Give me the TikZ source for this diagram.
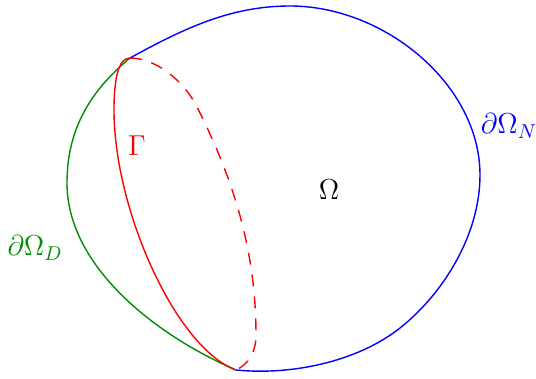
\documentclass[tikz,border=0pt]{standalone}
\begin{document}
\begin{tikzpicture}[x=0.5pt,y=-0.5pt,
  bnd/.style={line width=0.7pt},
  lbl/.style={inner sep=0pt,font=\fontsize{13.8}{16}\selectfont}]
\useasboundingbox (0,0) rectangle (536,379);
\coordinate (A) at (130,58);
\coordinate (B) at (236,370);
% Neumann boundary
\draw[bnd,blue] (A) .. controls (183,29) and (230,6) .. (290,6)
  .. controls (385,6) and (480,85) .. (480,175)
  .. controls (480,235) and (443,294) .. (400,328)
  .. controls (357,362) and (291,375.5) .. (B);
% Dirichlet boundary
\draw[bnd,green!55!black] (A) .. controls (91.5,90) and (67,128) .. (67,183)
  .. controls (67,265) and (153,334) .. (B);
% Gamma solid
\draw[bnd,red] (A) .. controls (118,58) and (114,80) .. (114,110)
  .. controls (114,210) and (176,348) .. (B);
% Gamma dashed
\draw[bnd,red,dash pattern=on 6pt off 5pt] (A) .. controls (155,58) and (183.5,80) .. (197,107)
  .. controls (233,178) and (256,250) .. (256,335)
  .. controls (256,352) and (249,364) .. (B);
\node[lbl] (om) at (329,190) {$\Omega$};
\node[lbl,blue] (on) at (509,126) {$\partial\Omega_N$};
\node[lbl,green!55!black] (od) at (35,248) {$\partial\Omega_D$};
\node[lbl,red] (ga) at (137,146) {$\Gamma$};
\end{tikzpicture}
\end{document}
